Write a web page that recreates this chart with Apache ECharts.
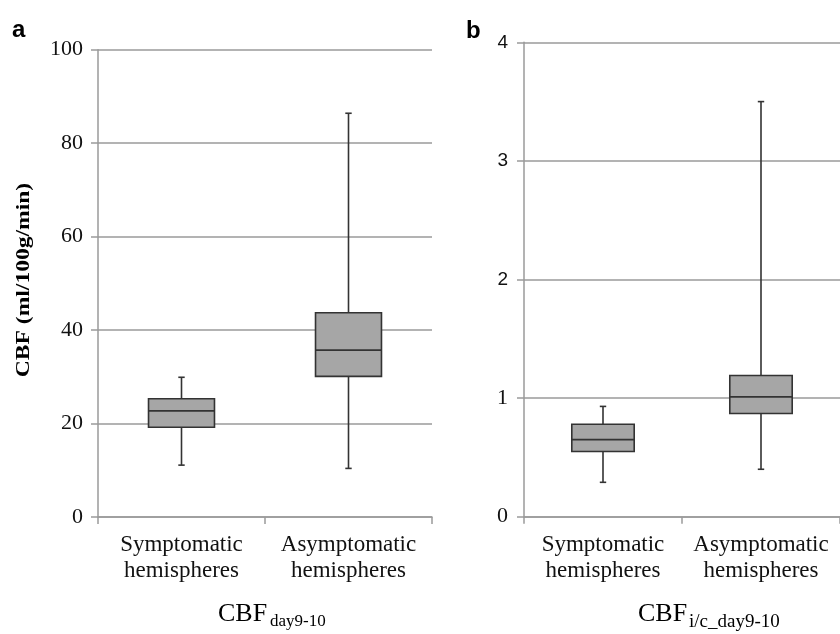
<!DOCTYPE html>
<html>
<head>
<meta charset="utf-8">
<script src="https://cdn.jsdelivr.net/npm/echarts@6/dist/echarts.min.js"></script>
<style>html,body{margin:0;padding:0;background:#fff}#c{width:840px;height:634px}</style>
</head>
<body>
<div id="c"></div>
<script>
// ---- data ----
var categories = ['Symptomatic\nhemispheres', 'Asymptomatic\nhemispheres'];
// [low whisker, Q1, median, Q3, high whisker]
var boxA = [
  [11.1, 19.2, 22.7, 25.3, 29.9],
  [10.4, 30.1, 35.7, 43.7, 86.4]
];
var boxB = [
  [0.29, 0.55, 0.65, 0.78, 0.93],
  [0.40, 0.87, 1.01, 1.19, 3.50]
];
var yTicksA = [0, 20, 40, 60, 80, 100];
var yTicksB = [0, 1, 2, 3, 4];

var SERIF = '"Liberation Serif","Times New Roman",serif';
var SANS = '"Liberation Sans",Arial,sans-serif';
var GRID_C = '#9a9a9a';
var DARK = '#333333';

function boxRender(params, api) {
  var x = api.value(0);
  var lo = api.coord([x, api.value(1)]);
  var q1 = api.coord([x, api.value(2)]);
  var md = api.coord([x, api.value(3)]);
  var q3 = api.coord([x, api.value(4)]);
  var hi = api.coord([x, api.value(5)]);
  var band = api.size([1, 0])[0];
  var w = band * 0.395;
  var cx = lo[0];
  var cap = 3.2;
  var ls = {stroke: DARK, lineWidth: 1.6};
  return {
    type: 'group',
    children: [
      {type: 'line', shape: {x1: cx, y1: hi[1], x2: cx, y2: q3[1]}, style: ls},
      {type: 'line', shape: {x1: cx, y1: q1[1], x2: cx, y2: lo[1]}, style: ls},
      {type: 'line', shape: {x1: cx - cap, y1: hi[1], x2: cx + cap, y2: hi[1]}, style: ls},
      {type: 'line', shape: {x1: cx - cap, y1: lo[1], x2: cx + cap, y2: lo[1]}, style: ls},
      {type: 'rect', shape: {x: cx - w / 2, y: q3[1], width: w, height: q1[1] - q3[1]},
        style: {fill: '#a6a6a6', stroke: DARK, lineWidth: 1.6}},
      {type: 'line', shape: {x1: cx - w / 2, y1: md[1], x2: cx + w / 2, y2: md[1]}, style: ls}
    ]
  };
}

function toData(arr) {
  return arr.map(function (d, i) { return [i].concat(d); });
}

function xAxisCfg(gi) {
  return {
    type: 'category', gridIndex: gi, data: categories,
    axisLine: {lineStyle: {color: GRID_C, width: 1.5}},
    axisTick: {show: true, length: 7, lineStyle: {color: GRID_C, width: 1.5}},
    axisLabel: {color: '#111', fontFamily: SERIF, fontSize: 23, lineHeight: 26, margin: 15, interval: 0}
  };
}
function yAxisCfg(gi, ticks, fmt) {
  return {
    type: 'value', gridIndex: gi,
    min: ticks[0], max: ticks[ticks.length - 1], interval: ticks[1] - ticks[0],
    axisLine: {show: true, lineStyle: {color: GRID_C, width: 1.5}},
    axisTick: {show: true, length: 7, lineStyle: {color: GRID_C, width: 1.5}},
    splitLine: {show: true, lineStyle: {color: GRID_C, width: 1.5}},
    axisLabel: fmt
  };
}

function txt(x, y, text, font, extra) {
  var o = {type: 'text', x: x, y: y, style: {text: text, font: font, fill: '#000', verticalAlign: 'middle', textVerticalAlign: 'middle'}};
  if (extra) { for (var k in extra) { o[k] = extra[k]; } }
  return o;
}

var chart = echarts.init(document.getElementById('c'), null, {renderer: 'canvas'});
chart.setOption({
  animation: false,
  backgroundColor: '#fff',
  grid: [
    {left: 98, top: 49.7, width: 334, height: 467.3},
    {left: 524, top: 42.3, width: 323.4, height: 474.4}
  ],
  xAxis: [xAxisCfg(0), xAxisCfg(1)],
  yAxis: [
    yAxisCfg(0, yTicksA, {color: '#111', fontFamily: SERIF, fontSize: 22, margin: 15}),
    yAxisCfg(1, yTicksB, {
      margin: 16,
      formatter: function (v) { return v >= 2 ? '{s|' + v + '}' : '{r|' + v + '}'; },
      rich: {
        s: {color: '#111', fontFamily: SANS, fontSize: 19},
        r: {color: '#111', fontFamily: SERIF, fontSize: 22}
      }
    })
  ],
  series: [
    {type: 'custom', xAxisIndex: 0, yAxisIndex: 0, renderItem: boxRender, data: toData(boxA),
      encode: {x: 0, y: [1, 2, 3, 4, 5]}},
    {type: 'custom', xAxisIndex: 1, yAxisIndex: 1, renderItem: boxRender, data: toData(boxB),
      encode: {x: 0, y: [1, 2, 3, 4, 5]}}
  ],
  graphic: [
    txt(12, 30, 'a', 'bold 24px ' + SANS),
    txt(466, 31, 'b', 'bold 24px ' + SANS),
    {type: 'text', x: 24, y: 280, rotation: Math.PI / 2, scaleX: 1.24,
      style: {text: 'CBF (ml/100g/min)', font: 'bold 19px ' + SERIF, fill: '#000', align: 'center', verticalAlign: 'middle', textAlign: 'center', textVerticalAlign: 'middle'}},
    txt(218, 614, 'CBF', '26px ' + SERIF),
    txt(270, 622, 'day9-10', '17px ' + SERIF),
    txt(638, 614, 'CBF', '26px ' + SERIF),
    txt(689, 622, 'i/c_day9-10', '19px ' + SERIF)
  ]
});
</script>
</body>
</html>
